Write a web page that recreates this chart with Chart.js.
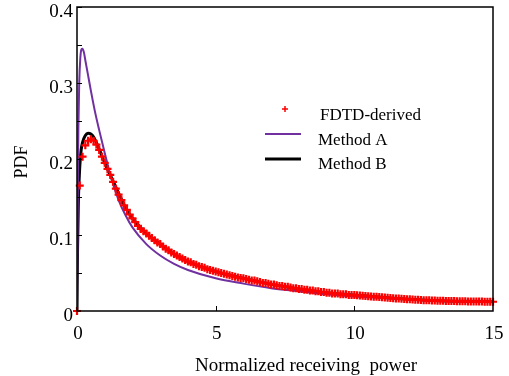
<!DOCTYPE html>
<html>
<head>
<meta charset="utf-8">
<script src="https://cdn.jsdelivr.net/npm/chart.js@4"></script>
<style>
  html, body { margin: 0; padding: 0; background: #fff; }
  #wrap { width: 509px; height: 376px; }
</style>
</head>
<body>
<div id="wrap"><canvas id="myChart" width="509" height="376"></canvas></div>
<script>
// FDTD-derived samples, every 0.1 from 0 to 15
const fdtdStep = 0.1;
const fdtdPdf = [
    0, 0.165, 0.203, 0.218, 0.224, 0.226, 0.224, 0.219, 0.212, 0.203,
    0.195, 0.187, 0.179, 0.170, 0.161, 0.153, 0.146, 0.139, 0.133, 0.127,
    0.122, 0.117, 0.112, 0.108, 0.105, 0.102, 0.099, 0.096, 0.093, 0.090,
    0.088, 0.085, 0.082, 0.080, 0.077, 0.075, 0.073, 0.071, 0.069, 0.067,
    0.065, 0.064, 0.062, 0.061, 0.059, 0.058, 0.057, 0.055, 0.054, 0.053,
    0.052, 0.051, 0.050, 0.049, 0.048, 0.047, 0.046, 0.045, 0.044, 0.0435,
    0.043, 0.042, 0.041, 0.040, 0.040, 0.039, 0.038, 0.037, 0.037, 0.036,
    0.035, 0.035, 0.034, 0.033, 0.033, 0.032, 0.032, 0.031, 0.030, 0.030,
    0.029, 0.029, 0.028, 0.028, 0.027, 0.027, 0.026, 0.026, 0.025, 0.025,
    0.024, 0.024, 0.023, 0.023, 0.023, 0.022, 0.022, 0.022, 0.021, 0.021,
    0.021, 0.0207, 0.0204, 0.0201, 0.0198, 0.0195, 0.0192, 0.0189, 0.0186, 0.0183,
    0.018, 0.0177, 0.0174, 0.0171, 0.0168, 0.0166, 0.0163, 0.016, 0.0158, 0.0155,
    0.0153, 0.0151, 0.0149, 0.0147, 0.0145, 0.0143, 0.0141, 0.014, 0.0138, 0.0137,
    0.0136, 0.0135, 0.0134, 0.0133, 0.0132, 0.0131, 0.013, 0.0129, 0.0128, 0.0128,
    0.0127, 0.0126, 0.0126, 0.0125, 0.0125, 0.0124, 0.0124, 0.0123, 0.0123, 0.0123,
    0.0122
];

// Method A (purple curve)
const methodAX = [0, 0.02, 0.05, 0.08, 0.12, 0.16, 0.2, 0.25, 0.3, 0.4, 0.5, 0.65, 0.8, 1.0, 1.25, 1.5, 1.75, 2.0, 2.5, 3.0, 3.5, 4.0, 5.0, 6.0, 7.0, 8.0, 9.0, 10, 11, 12, 13, 14, 15];
const methodAY = [0, 0.12, 0.24, 0.30, 0.333, 0.344, 0.345, 0.34, 0.33, 0.31, 0.29, 0.262, 0.238, 0.208, 0.173, 0.146, 0.126, 0.110, 0.088, 0.073, 0.062, 0.054, 0.043, 0.036, 0.030, 0.026, 0.022, 0.019, 0.017, 0.015, 0.0135, 0.0125, 0.0117];

// Method B (black curve)
const methodBX = [0, 0.02, 0.05, 0.1, 0.15, 0.2, 0.3, 0.4, 0.5, 0.6, 0.8, 1.0, 1.25, 1.5, 1.75, 2.0, 2.5, 3.0, 3.5, 4.0, 5.0, 6.0, 7.0, 8.0, 9.0, 10, 11, 12, 13, 14, 15];
const methodBY = [0, 0.08, 0.145, 0.19, 0.212, 0.222, 0.231, 0.234, 0.233, 0.229, 0.213, 0.195, 0.175, 0.155, 0.136, 0.122, 0.102, 0.088, 0.075, 0.065, 0.052, 0.043, 0.035, 0.029, 0.024, 0.021, 0.018, 0.0153, 0.0136, 0.0127, 0.0122];

const xTicks = [0, 5, 10, 15];
const yTicks = [0, 0.1, 0.2, 0.3, 0.4];
const xTitle = 'Normalized receiving  power';
const yTitle = 'PDF';

const serif = '"Liberation Serif", "Times New Roman", serif';
const purple = 'rgb(112, 48, 160)';

const pairs = (xs, ys) => ys.map((y, i) => ({ x: xs[i], y: y }));

// frame + inward ticks
const framePlugin = {
    id: 'frame',
    afterDatasetsDraw(chart) {
        const { ctx, chartArea: a, scales: { x, y } } = chart;
        ctx.save();
        ctx.strokeStyle = '#000';
        ctx.lineWidth = 1.5;
        ctx.strokeRect(a.left, a.top, a.right - a.left, a.bottom - a.top);
        ctx.lineWidth = 1;
        ctx.beginPath();
        for (let v = 0.05; v < 0.4; v += 0.05) {
            const py = Math.round(y.getPixelForValue(v)) + 0.5;
            ctx.moveTo(a.left, py);
            ctx.lineTo(a.left + 5, py);
        }
        xTicks.slice(1, -1).forEach(v => {
            const px = Math.round(x.getPixelForValue(v)) + 0.5;
            ctx.moveTo(px, a.bottom);
            ctx.lineTo(px, a.bottom - 5);
        });
        ctx.stroke();
        ctx.restore();
    }
};

// axis titles and legend, placed like the original figure
const textPlugin = {
    id: 'texts',
    afterDraw(chart) {
        const ctx = chart.ctx;
        ctx.save();
        ctx.fillStyle = '#000';
        ctx.textBaseline = 'middle';

        ctx.font = '19px ' + serif;
        ctx.textAlign = 'center';
        ctx.fillText(xTitle, 306, 366);
        ctx.save();
        ctx.translate(22, 162);
        ctx.rotate(-Math.PI / 2);
        ctx.font = '18px ' + serif;
        ctx.fillText(yTitle, 0, 0);
        ctx.restore();

        ctx.textAlign = 'left';
        ctx.font = '17px ' + serif;
        const ds = chart.data.datasets;
        // FDTD-derived
        ctx.strokeStyle = 'red';
        ctx.lineWidth = 1.5;
        ctx.beginPath();
        ctx.moveTo(282, 109); ctx.lineTo(288, 109);
        ctx.moveTo(285, 106); ctx.lineTo(285, 112);
        ctx.stroke();
        ctx.fillText(ds[0].label, 320, 116);
        // Method A
        ctx.strokeStyle = purple;
        ctx.lineWidth = 2;
        ctx.beginPath();
        ctx.moveTo(265, 134); ctx.lineTo(301, 134);
        ctx.stroke();
        ctx.fillText(ds[1].label, 318, 141);
        // Method B
        ctx.strokeStyle = '#000';
        ctx.lineWidth = 3;
        ctx.beginPath();
        ctx.moveTo(265, 159); ctx.lineTo(301, 159);
        ctx.stroke();
        ctx.fillText(ds[2].label, 318, 165);
        ctx.restore();
    }
};

const data = {
    datasets: [{
        label: 'FDTD-derived',
        data: fdtdPdf.map((v, i) => ({ x: +(i * fdtdStep).toFixed(1), y: v })),
        showLine: false,
        pointStyle: 'cross',
        pointRadius: 4,
        pointBorderWidth: 2.2,
        borderColor: 'red',
        backgroundColor: 'red',
        clip: false
    }, {
        label: 'Method A',
        data: pairs(methodAX, methodAY),
        showLine: true,
        borderColor: purple,
        borderWidth: 2,
        pointRadius: 0,
        cubicInterpolationMode: 'monotone'
    }, {
        label: 'Method B',
        data: pairs(methodBX, methodBY),
        showLine: true,
        borderColor: '#000',
        borderWidth: 3,
        pointRadius: 0,
        cubicInterpolationMode: 'monotone'
    }]
};

const config = {
    type: 'scatter',
    data: data,
    options: {
        responsive: false,
        animation: false,
        layout: { padding: { top: 7, right: 16, left: 0, bottom: 0 } },
        plugins: {
            legend: { display: false },
            tooltip: { enabled: false }
        },
        scales: {
            x: {
                type: 'linear',
                min: 0, max: 15,
                afterBuildTicks: s => { s.ticks = xTicks.map(v => ({ value: v })); },
                grid: { display: false, drawTicks: false },
                border: { display: false },
                ticks: { color: '#000', padding: 12, labelOffset: 1, font: { family: serif, size: 19 } },
                afterFit: s => { s.height = 65; s.paddingLeft = 0; s.paddingRight = 0; }
            },
            y: {
                type: 'linear',
                min: 0, max: 0.4,
                afterBuildTicks: s => { s.ticks = yTicks.map(v => ({ value: v })); },
                grid: { display: false, drawTicks: false },
                border: { display: false },
                ticks: { color: '#000', padding: 4, labelOffset: 5, font: { family: serif, size: 19 } },
                afterFit: s => { s.width = 77; s.paddingTop = 0; s.paddingBottom = 0; }
            }
        }
    },
    plugins: [framePlugin, textPlugin]
};

const myChart = new Chart(document.getElementById('myChart'), config);
</script>
</body>
</html>
